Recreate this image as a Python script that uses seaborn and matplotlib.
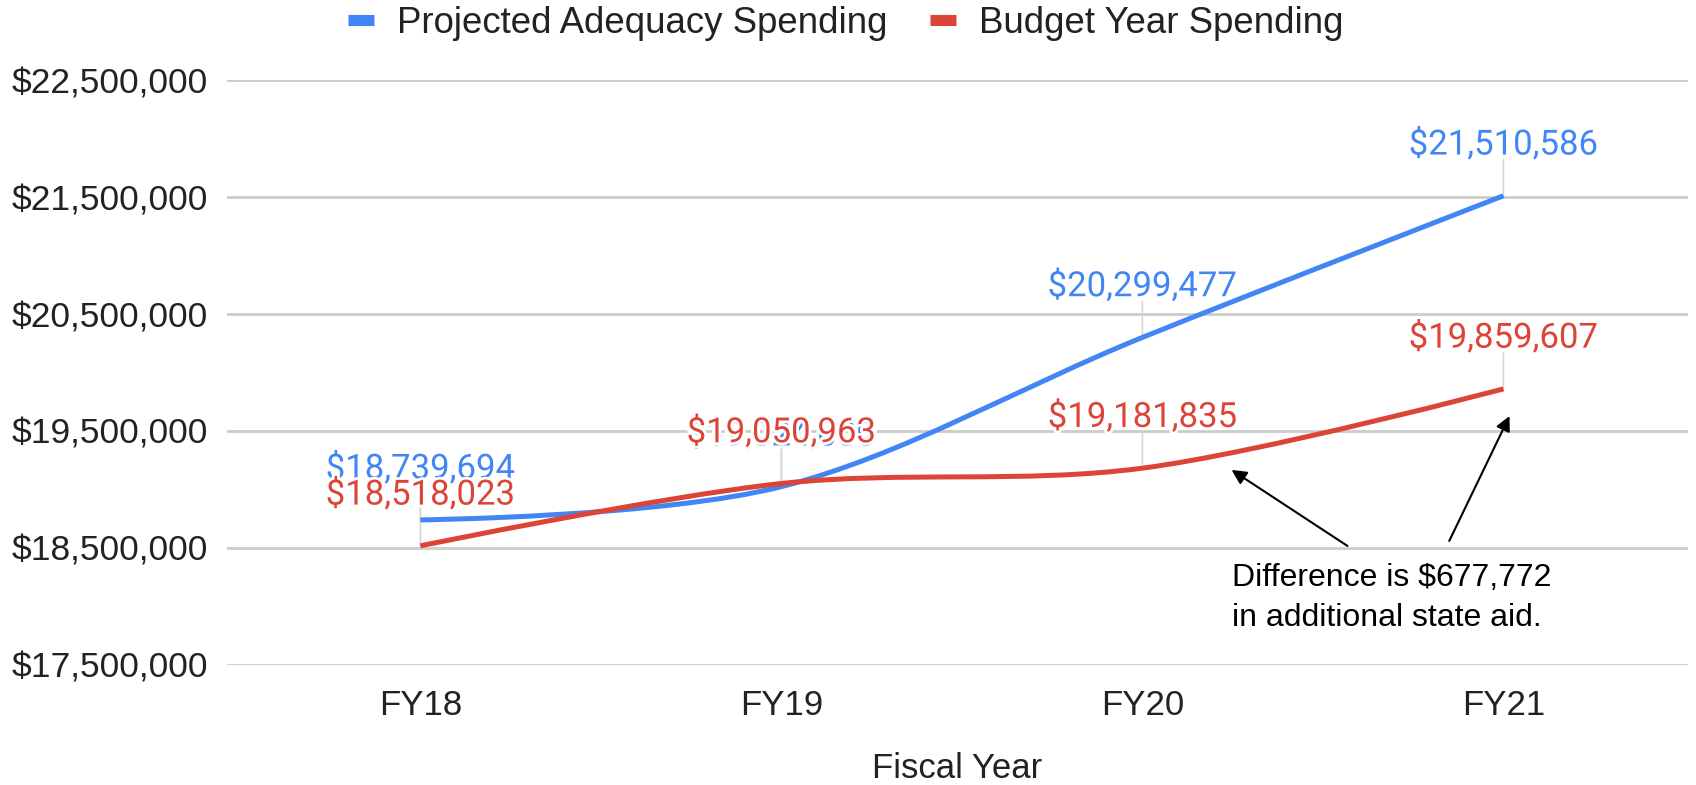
import matplotlib
matplotlib.use("Agg")
import matplotlib.pyplot as plt
import seaborn as sns
import pandas as pd
import numpy as np
from matplotlib.path import Path
from matplotlib.patches import PathPatch
from matplotlib.ticker import FuncFormatter, FixedLocator
import matplotlib.patheffects as pe
from matplotlib.lines import Line2D

# ---------------- data ----------------
years = ["FY18", "FY19", "FY20", "FY21"]
projected = [18739694, 19024000, 20299477, 21510586]
budget = [18518023, 19050963, 19181835, 19859607]
series_names = ["Projected Adequacy Spending", "Budget Year Spending"]
yticks = [17500000, 18500000, 19500000, 20500000, 21500000, 22500000]
note_text = "Difference is $677,772\nin additional state aid."

BLUE = "#4285F4"
RED = "#DB4437"
GRID = "#cccccc"

sns.set_theme(style="white")
plt.rcParams["font.family"] = ["Liberation Sans", "DejaVu Sans"]

fig = plt.figure(figsize=(16.96, 7.85), dpi=100)
ax = fig.add_axes([0.134, 0.153, 0.861, 0.745])

df = pd.DataFrame({
    "x": list(range(len(years))) * 2,
    "value": projected + budget,
    "series": [series_names[0]] * len(years) + [series_names[1]] * len(years),
})
sns.lineplot(data=df, x="x", y="value", hue="series",
             palette=[BLUE, RED], linewidth=0, legend=False, ax=ax)


def smooth_path(vals):
    xs = np.arange(len(vals), dtype=float)
    ys = np.asarray(vals, dtype=float)
    n = len(vals)
    tang = []
    for i in range(n):
        if i == 0 or i == n - 1:
            tang.append((0.0, 0.0))
        else:
            tang.append(((xs[i + 1] - xs[i - 1]) / 6.0, (ys[i + 1] - ys[i - 1]) / 6.0))
    verts = [(xs[0], ys[0])]
    codes = [Path.MOVETO]
    for i in range(n - 1):
        c1 = (xs[i] + tang[i][0], ys[i] + tang[i][1])
        c2 = (xs[i + 1] - tang[i + 1][0], ys[i + 1] - tang[i + 1][1])
        verts += [c1, c2, (xs[i + 1], ys[i + 1])]
        codes += [Path.CURVE4] * 3
    return Path(verts, codes)


for vals, col, z in [(projected, BLUE, 3), (budget, RED, 4)]:
    ax.add_patch(PathPatch(smooth_path(vals), facecolor="none", edgecolor=col,
                           linewidth=3.6, capstyle="butt", zorder=z))

ax.set_xlim(-0.535, 3.51)
ax.set_ylim(yticks[0], yticks[-1])
ax.yaxis.set_major_locator(FixedLocator(yticks))
ax.yaxis.set_major_formatter(FuncFormatter(lambda v, p: "${:,.0f}".format(v)))
ax.set_xticks(range(len(years)))
ax.set_xticklabels(years)
ax.grid(axis="y", color=GRID, linewidth=2)
ax.grid(axis="x", visible=False)
for s in ax.spines.values():
    s.set_visible(False)
ax.tick_params(axis="y", length=0, pad=14, labelsize=25.5, colors="#222222")
ax.tick_params(axis="x", length=0, pad=17, labelsize=25, colors="#222222")
ax.set_xlabel("Fiscal Year", fontsize=25, labelpad=22, color="#222222")
ax.set_ylabel("")

# data labels with leader lines
halo = [pe.withStroke(linewidth=4, foreground="white")]
for vals, col, z in [(projected, BLUE, 6), (budget, RED, 7)]:
    for i, v in enumerate(vals):
        ax.annotate("", xy=(i, v), xytext=(0, 26), textcoords="offset points",
                    arrowprops=dict(arrowstyle="-", color="#d6d6d6", lw=1.2,
                                    shrinkA=0, shrinkB=0), zorder=2)
        ax.annotate("${:,.0f}".format(v), xy=(i, v), xytext=(0, 37),
                    textcoords="offset points", ha="center", va="center",
                    fontsize=25, color=col, family=["Roboto", "DejaVu Sans"],
                    path_effects=halo, zorder=z)

# note + arrows
ax.text(2.247, 18070000, note_text, fontsize=23, color="black", ha="left",
        va="center", linespacing=1.45, zorder=8)
ax.annotate("", xy=(2.247, 19167000), xytext=(2.568, 18517000),
            arrowprops=dict(arrowstyle="-|>", color="black", lw=1.5,
                            mutation_scale=22, shrinkA=0, shrinkB=0), zorder=8)
ax.annotate("", xy=(3.017, 19628000), xytext=(2.850, 18560000),
            arrowprops=dict(arrowstyle="-|>", color="black", lw=1.5,
                            mutation_scale=22, shrinkA=0, shrinkB=0), zorder=8)

# legend
handles = [Line2D([0], [0], color=BLUE, linewidth=8, solid_capstyle="butt"),
           Line2D([0], [0], color=RED, linewidth=8, solid_capstyle="butt")]
fig.legend(handles, series_names, loc="upper center", bbox_to_anchor=(0.4985, 1.035),
           ncol=2, frameon=False, fontsize=26.4, handlelength=0.72,
           handletextpad=0.62, columnspacing=1.15, labelcolor="#222222")

fig.savefig("out.png", dpi=100)
